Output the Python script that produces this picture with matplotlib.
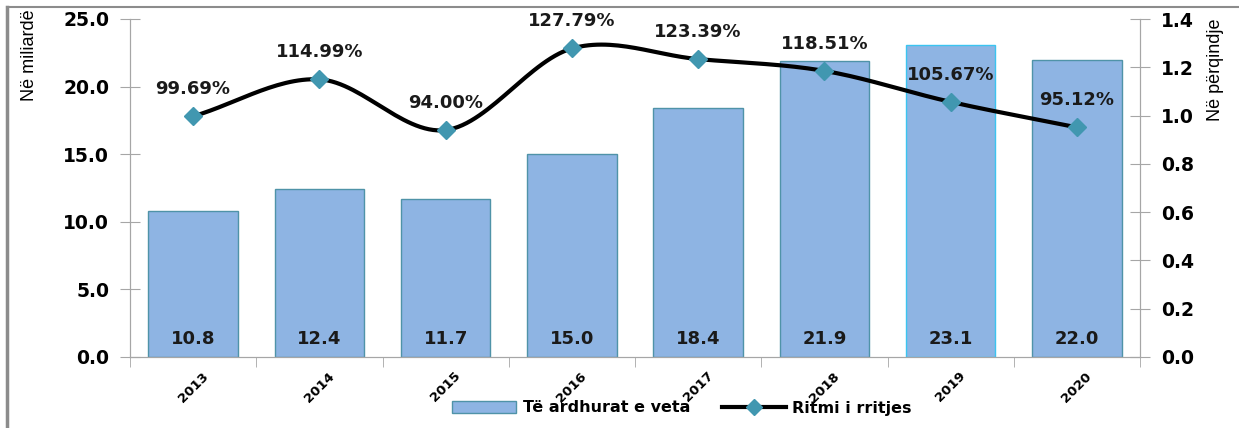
import matplotlib
matplotlib.use("Agg")
import matplotlib.pyplot as plt
import numpy as np
from matplotlib.lines import Line2D
from matplotlib.patches import Patch

years = ["2013", "2014", "2015", "2016", "2017", "2018", "2019", "2020"]
revenue = [10.8, 12.4, 11.7, 15.0, 18.4, 21.9, 23.1, 22.0]
growth = [0.9969, 1.1499, 0.9400, 1.2779, 1.2339, 1.1851, 1.0567, 0.9512]
growth_labels = ["99.69%", "114.99%", "94.00%", "127.79%", "123.39%", "118.51%", "105.67%", "95.12%"]

bar_fill = "#8EB4E3"
bar_edge = "#4F93A8"
marker_col = "#4197B0"
spine_col = "#A6A6A6"

fig = plt.figure(figsize=(12.39, 4.28), dpi=100)
ax = fig.add_axes([130/1239, 1-357/428, (1140-130)/1239, (357-19)/428])
ax2 = ax.twinx()

x = np.arange(len(years))
edges = [bar_edge]*len(years)
edges[6] = "#3BC4F0"
ax.bar(x, revenue, width=0.71, color=bar_fill, edgecolor=edges, linewidth=1.0, zorder=2)
for xi, v in zip(x, revenue):
    ax.text(xi, 0.7, f"{v:.1f}", ha="center", va="bottom", fontsize=13,
            fontweight="bold", color="#1a1a1a", zorder=3)

ax.set_xlim(-0.5, len(years)-0.5)
ax.set_ylim(0, 25)
ax.set_yticks(np.arange(0, 25.01, 5))
ax.set_yticklabels([f"{t:.1f}" for t in np.arange(0, 25.01, 5)], fontsize=13.5, fontweight="bold")
ax.set_xticks(x)
ax.set_xticklabels(years, rotation=45, fontsize=9.5, fontweight="bold", ha="center", va="top")
ax.set_xticks(np.arange(-0.5, len(years)), minor=True)
ax.tick_params(axis="x", which="major", length=0, pad=9)
ax.tick_params(axis="x", which="minor", length=7, direction="out", color=spine_col)
ax.tick_params(axis="y", length=14, direction="inout", color=spine_col, pad=8)

ax2.set_ylim(0, 1.4)
yt2 = np.arange(0, 1.41, 0.2)
ax2.set_yticks(yt2)
ax2.set_yticklabels([f"{t:.1f}" for t in yt2], fontsize=13.5, fontweight="bold")
ax2.tick_params(axis="y", length=14, direction="inout", color=spine_col, pad=8)

for a in (ax, ax2):
    a.spines["top"].set_visible(False)
    a.spines["left"].set_color(spine_col)
    a.spines["right"].set_color(spine_col)
    a.spines["bottom"].set_color(spine_col)

# smooth (Catmull-Rom) line through growth points
def catmull(xs, ys, n=30):
    xs = np.asarray(xs, float); ys = np.asarray(ys, float)
    px = np.concatenate([[2*xs[0]-xs[1]], xs, [2*xs[-1]-xs[-2]]])
    py = np.concatenate([[2*ys[0]-ys[1]], ys, [2*ys[-1]-ys[-2]]])
    ox, oy = [], []
    for i in range(1, len(px)-2):
        t = np.linspace(0, 1, n, endpoint=False)
        for P, out in ((px, ox), (py, oy)):
            p0, p1, p2, p3 = P[i-1], P[i], P[i+1], P[i+2]
            out.extend(0.5*((2*p1) + (-p0+p2)*t + (2*p0-5*p1+4*p2-p3)*t**2 + (-p0+3*p1-3*p2+p3)*t**3))
    ox.append(xs[-1]); oy.append(ys[-1])
    return np.array(ox), np.array(oy)

sx, sy = catmull(x, growth)
ax2.plot(sx, sy, color="black", linewidth=3, zorder=4)
ax2.plot(x, growth, linestyle="none", marker="D", markersize=9, color=marker_col, zorder=5)
for xi, g, lab in zip(x, growth, growth_labels):
    ax2.annotate(lab, (xi, g), xytext=(0, 13), textcoords="offset points", ha="center",
                 va="bottom", fontsize=13, fontweight="bold", color="#1a1a1a", zorder=6)

fig.text(30/1239, 1-55/428, "Në miliardë", rotation=90, ha="center", va="center",
         fontsize=13, family="Liberation Sans")
fig.text(1215/1239, 1-70/428, "Në përqindje", rotation=90, ha="center", va="center",
         fontsize=13, family="Liberation Sans")

handles = [Patch(facecolor=bar_fill, edgecolor=bar_edge, linewidth=1.0),
           Line2D([0], [0], color="black", linewidth=3, marker="D", markersize=8,
                  markerfacecolor=marker_col, markeredgecolor=marker_col)]
leg = fig.legend(handles, ["Të ardhurat e veta", "Ritmi i rritjes"], loc="center",
                 bbox_to_anchor=(682/1239, 1-408/428), ncol=2, frameon=False,
                 prop={"size": 11.5, "weight": "bold"}, handlelength=4.0, handleheight=0.8,
                 columnspacing=2.0, handletextpad=0.4)

# figure border (top and left)
fig.add_artist(Line2D([7/1239, 1], [1-7/428, 1-7/428], color="#8C8C8C", linewidth=1.5,
                      transform=fig.transFigure))
fig.add_artist(Line2D([7/1239, 7/1239], [0, 1-7/428], color="#8C8C8C", linewidth=2.5,
                      transform=fig.transFigure))

fig.savefig("out.png", dpi=100)
